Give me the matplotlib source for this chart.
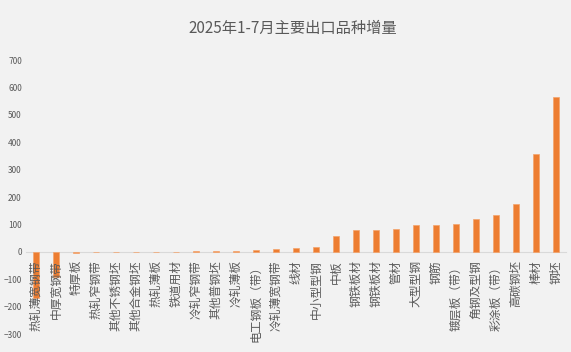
import matplotlib.pyplot as plt

plt.rcParams['font.family'] = ['Noto Sans CJK SC', 'DejaVu Sans']

# categories and values (increase)
categories = ['热轧薄宽钢带', '中厚宽钢带', '特厚板', '热轧窄钢带', '其他不锈钢坯',
              '其他合金钢坯', '热轧薄板', '铁道用材', '冷轧窄钢带', '其他普钢坯',
              '冷轧薄板', '电工钢板（带）', '冷轧薄宽钢带', '线材', '中小型型钢',
              '中板', '钢铁板材', '钢铁板材', '管材', '大型型钢', '钢筋',
              '镀层板（带）', '角钢及型钢', '彩涂板（带）', '高碳钢坯', '棒材', '钢坯']
values = [-168, -91, -4, 0, 0, 0, 0, 0, 2, 2,
          3, 7, 12, 15, 18, 56, 79, 79, 82, 98, 98,
          103, 119, 136, 176, 358, 565]

bg = '#f2f2f2'
grey = '#595959'

fig = plt.figure(figsize=(5.71, 3.52), dpi=100, facecolor=bg)
ax = fig.add_axes([0.0455, 0.0511, 0.9455, 0.7784], facecolor=bg)

# move the category axis to zero first (this resets the ticks)
for s in ['top', 'right', 'left']:
    ax.spines[s].set_visible(False)
ax.spines['bottom'].set_position(('data', 0))
ax.spines['bottom'].set_color('#d9d9d9')
ax.spines['bottom'].set_zorder(0.5)

x = list(range(len(categories)))
ax.bar(x, values, width=0.3, color='#ed7d31', edgecolor='#f4a36b', linewidth=0.5, zorder=1)
ax.set_axisbelow(False)  # labels drawn over the negative bars

ax.set_xlim(-0.5, len(categories) - 0.5)
ax.set_ylim(-300, 700)
ax.set_yticks(range(-300, 701, 100))
ax.tick_params(axis='y', length=0, labelsize=6, labelcolor=grey, pad=3)

ax.set_xticks(x)
ax.set_xticklabels(categories, rotation=90, fontsize=8.5, color=grey)
ax.tick_params(axis='x', length=0, pad=6)

fig.text(0.513, 0.92, '2025年1-7月主要出口品种增量', ha='center', va='center',
         fontsize=11, color=grey)

fig.savefig('out.png', dpi=100, facecolor=bg)
plt.close()
